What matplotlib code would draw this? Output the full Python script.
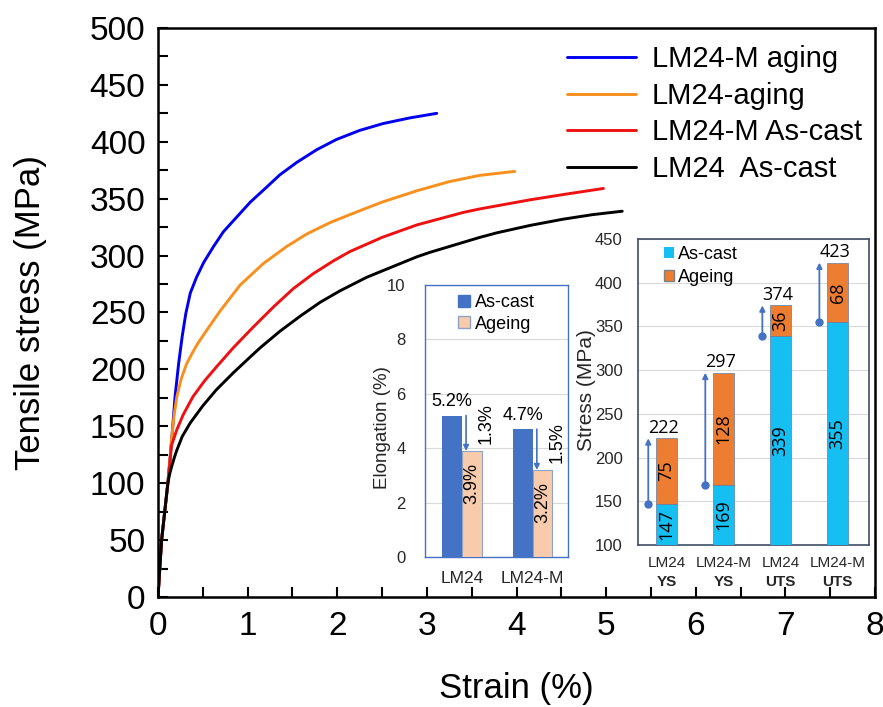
import matplotlib
matplotlib.use("Agg")
import matplotlib.pyplot as plt
from matplotlib.patches import Patch
import matplotlib.transforms as mtransforms

plt.rcParams['font.family'] = ['Liberation Sans', 'DejaVu Sans']

# ---------------- data: main stress-strain curves ----------------
labels_main = ["LM24-M aging", "LM24-aging", "LM24-M As-cast", "LM24  As-cast"]

strain_m_aging = [0, 0.04, 0.11, 0.13, 0.153, 0.19, 0.23, 0.27, 0.31, 0.36, 0.43, 0.51, 0.62,
                  0.73, 0.88, 1.03, 1.21, 1.36, 1.55, 1.77, 1.99, 2.25, 2.51, 2.81, 3.11]
stress_m_aging = [0, 50, 100, 118, 138, 176, 205, 229, 249, 267, 281, 294, 308,
                  321, 334, 347, 360, 371, 382, 393, 402, 410, 416, 421, 425]

strain_aging = [0, 0.04, 0.11, 0.13, 0.15, 0.18, 0.21, 0.26, 0.32, 0.38, 0.43, 0.48, 0.54,
                0.69, 0.915, 1.175, 1.436, 1.66, 1.92, 2.14, 2.5, 2.89, 3.25, 3.59, 3.98]
stress_aging = [0, 50, 100, 118, 138, 160, 176, 192, 205, 214, 221, 227, 234,
                251, 274, 293, 308, 319, 329, 336, 347, 357, 365, 370.5, 374]

strain_m_cast = [0, 0.04, 0.11, 0.13, 0.15, 0.21, 0.28, 0.39, 0.52, 0.65, 0.84, 1.06, 1.29,
                 1.51, 1.73, 1.96, 2.14, 2.5, 2.89, 3.41, 3.59, 4.15, 4.55, 4.97]
stress_m_cast = [0, 50, 100, 116, 133, 147, 160, 176, 190, 202, 219, 237, 255,
                 271, 284, 295.5, 303.5, 316, 327, 338, 341, 349, 354, 359]

strain_cast = [0, 0.04, 0.11, 0.13, 0.15, 0.18, 0.21, 0.27, 0.36, 0.5, 0.65, 0.84, 1.03,
               1.14, 1.36, 1.59, 1.81, 2.03, 2.33, 2.89, 3.04, 3.59, 3.78, 4.15, 4.52,
               4.85, 5.18]
stress_cast = [0, 50, 100, 108, 114, 122, 129, 141, 153, 168, 182, 197, 211,
               219, 233.5, 247, 259, 269, 281, 299, 303, 316, 320, 326.5, 332,
               336, 339]

# ---------------- data: elongation inset ----------------
elong_cats = ["LM24", "LM24-M"]
elong_ascast = [5.2, 4.7]
elong_ageing = [3.9, 3.2]
elong_ticks = [0, 2, 4, 6, 8, 10]

# ---------------- data: stress inset ----------------
stress_cats_top = ["LM24", "LM24-M", "LM24", "LM24-M"]
stress_cats_bottom = ["YS", "YS", "UTS", "UTS"]
stress_ascast = [147, 169, 339, 355]
stress_ageing_gain = [75, 128, 36, 68]
stress_total = [222, 297, 374, 423]
stress_ticks = [100, 150, 200, 250, 300, 350, 400, 450]

W, H = 883, 707
fig = plt.figure(figsize=(W / 100, H / 100), dpi=100)

def fx(px):
    return px / W

def fy(py):
    return 1 - py / H

# ---------------- main axes ----------------
ax = fig.add_axes([fx(158), fy(597), fx(875) - fx(158), fy(28) - fy(597)])
colors = ['#0000EE', '#F7901E', '#EE1111', '#000000']
series = [(strain_m_aging, stress_m_aging), (strain_aging, stress_aging),
          (strain_m_cast, stress_m_cast), (strain_cast, stress_cast)]
handles = []
for (s, v), c, lab in zip(series, colors, labels_main):
    h, = ax.plot(s, v, color=c, lw=2.1, label=lab, solid_capstyle='round',
                 solid_joinstyle='round')
    handles.append(h)

ax.set_xlim(0, 8)
ax.set_ylim(0, 500)
ax.set_xticks(range(0, 9))
ax.set_xticks([i + 0.5 for i in range(8)], minor=True)
ax.set_yticks(range(0, 501, 50))
ax.set_yticks(range(25, 500, 50), minor=True)
ax.tick_params(which='both', direction='in', length=7, width=1.5)
ax.tick_params(axis='x', which='major', labelsize=24, pad=10)
ax.tick_params(axis='y', which='major', labelsize=24, pad=9)
for sp in ax.spines.values():
    sp.set_linewidth(1.8)
ax.set_xlabel("Strain (%)", fontsize=25)
ax.set_ylabel("Tensile stress (MPa)", fontsize=25)
ax.xaxis.set_label_coords(0.5, -0.132)
ax.yaxis.set_label_coords(-0.155, 0.5)

fig.legend(handles=handles, labels=labels_main, loc='upper left',
           bbox_to_anchor=(fx(567), fy(45)), bbox_transform=fig.transFigure,
           frameon=False, fontsize=21, handlelength=2.35, handletextpad=0.55,
           labelspacing=0.3, borderpad=0, borderaxespad=0)

# ---------------- inset 1: elongation ----------------
blue_dark = '#4472C4'
peach = '#F8CBAD'
ax1 = fig.add_axes([fx(425), fy(557), fx(568) - fx(425), fy(285) - fy(557)])
xi = list(range(len(elong_cats)))
bw = 0.28
ax1.bar([x - bw / 2 for x in xi], elong_ascast, width=bw, color=blue_dark, zorder=3)
ax1.bar([x + bw / 2 for x in xi], elong_ageing, width=bw, color=peach,
        edgecolor='#8FA3C7', linewidth=0.8, zorder=3)
ax1.set_xlim(-0.52, 1.5)
ax1.set_ylim(0, 10)
ax1.set_yticks(elong_ticks)
ax1.set_xticks(xi)
ax1.set_xticklabels(elong_cats)
ax1.yaxis.grid(True, color='#D9D9D9', lw=0.8, zorder=0)
ax1.tick_params(length=0, colors='#262626')
ax1.tick_params(axis='y', pad=14, labelsize=12)
ax1.tick_params(axis='x', pad=10, labelsize=12.5)
for sp in ax1.spines.values():
    sp.set_color(blue_dark)
    sp.set_linewidth(1.0)
ax1.set_ylabel("Elongation (%)", fontsize=13.5, color='#262626')
ax1.yaxis.set_label_coords(-0.235, 0.475)
for i, (a, g) in enumerate(zip(elong_ascast, elong_ageing)):
    ax1.text(i - bw / 2, a + 0.2, f"{a:.1f}%", ha='center', va='bottom', fontsize=13)
    ax1.annotate("", xy=(i + 0.06, g), xytext=(i + 0.06, a),
                 arrowprops=dict(arrowstyle='-|>', color=blue_dark, lw=1.2,
                                 mutation_scale=8, shrinkA=0, shrinkB=0), zorder=5)
    ax1.text(i + 0.34, g + 0.25, f"{a - g:.1f}%", rotation=90, ha='center',
             va='bottom', fontsize=13)
    ax1.text(i + bw / 2, g - 0.45, f"{g:.1f}%", rotation=90, ha='center',
             va='top', fontsize=13, zorder=6)
ax1.legend(handles=[Patch(facecolor=blue_dark, edgecolor=blue_dark),
                    Patch(facecolor=peach, edgecolor='#8FA3C7')],
           labels=["As-cast", "Ageing"], loc='upper left',
           bbox_to_anchor=(fx(458), fy(294)), bbox_transform=fig.transFigure,
           frameon=False, fontsize=13, handlelength=0.65, handleheight=0.65,
           handletextpad=0.3, labelspacing=0.25, borderpad=0, borderaxespad=0)

# ---------------- inset 2: stress ----------------
cyan = '#16BFF2'
orange = '#ED7D31'
ax2 = fig.add_axes([fx(638), fy(545), fx(869) - fx(638), fy(239) - fy(545)])
xs = list(range(len(stress_ascast)))
bw2 = 0.38
ax2.bar(xs, stress_ascast, width=bw2, color=cyan, edgecolor='#5C7FA8',
        linewidth=0.5, zorder=3)
ax2.bar(xs, stress_ageing_gain, bottom=stress_ascast, width=bw2, color=orange,
        edgecolor='#5C7FA8', linewidth=0.5, zorder=3)
ax2.set_xlim(-0.5, 3.55)
ax2.set_ylim(100, 450)
ax2.set_yticks(stress_ticks)
ax2.set_xticks(xs)
ax2.set_xticklabels([])
ax2.yaxis.grid(True, color='#D9D9D9', lw=0.8, zorder=0)
ax2.tick_params(length=0, labelsize=12, colors='#262626')
ax2.tick_params(axis='y', pad=11)
for sp in ax2.spines.values():
    sp.set_color('#3F4D66')
    sp.set_linewidth(1.2)
ax2.set_ylabel("Stress (MPa)", fontsize=15, color='#262626')
ax2.yaxis.set_label_coords(-0.18, 0.507)
trans = mtransforms.blended_transform_factory(ax2.transData, ax2.transAxes)
num_font = ['Open Sans', 'DejaVu Sans']
for i in xs:
    ax2.text(i, -0.058, stress_cats_top[i], transform=trans, ha='center',
             va='center', fontsize=11, color='#262626')
    ax2.text(i, -0.122, stress_cats_bottom[i], transform=trans, ha='center',
             va='center', fontsize=11, fontweight='bold', color='#262626')
    a = stress_ascast[i]
    g = stress_ageing_gain[i]
    t = stress_total[i]
    ax2.text(i - 0.05, t + 2, f"{t}", ha='center', va='bottom', fontsize=13,
             family=num_font)
    ax2.text(i, (100 + a) / 2, f"{a}", rotation=90, ha='center', va='center',
             fontsize=13, family=num_font, zorder=6)
    ax2.text(i, a + g / 2, f"{g}", rotation=90, ha='center', va='center',
             fontsize=13, family=num_font, zorder=6)
    ax2.plot([i - 0.32], [a], marker='o', ms=5, color=blue_dark, zorder=5, clip_on=False)
    ax2.annotate("", xy=(i - 0.32, t), xytext=(i - 0.32, a),
                 arrowprops=dict(arrowstyle='-|>', color=blue_dark, lw=1.3,
                                 mutation_scale=8, shrinkA=0, shrinkB=0), zorder=5)
ax2.legend(handles=[Patch(facecolor=cyan), Patch(facecolor=orange, edgecolor='#7F7F7F')],
           labels=["As-cast", "Ageing"], loc='upper left',
           bbox_to_anchor=(fx(664), fy(246)), bbox_transform=fig.transFigure,
           frameon=False, fontsize=13, handlelength=0.55, handleheight=0.55,
           handletextpad=0.25, labelspacing=0.35, borderpad=0, borderaxespad=0)

fig.savefig("out.png", dpi=100)
